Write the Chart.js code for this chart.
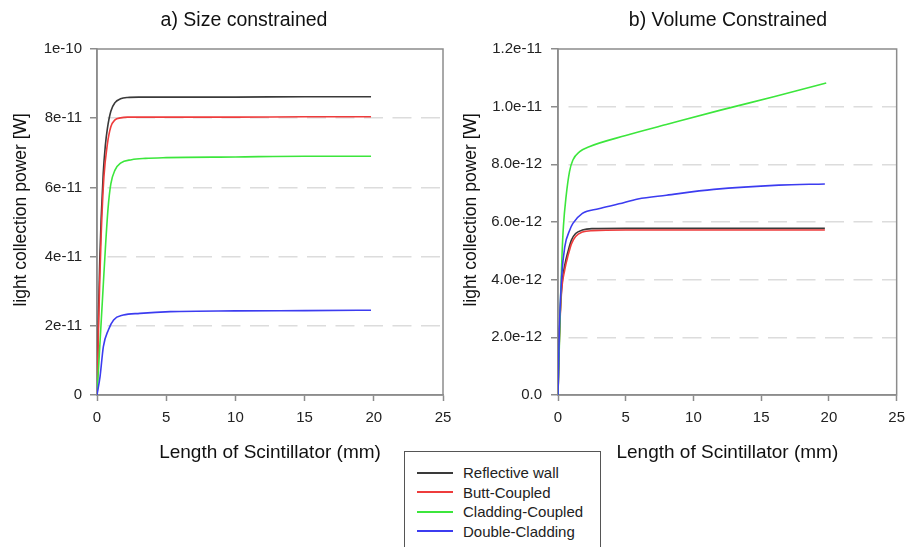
<!DOCTYPE html>
<html>
<head>
<meta charset="utf-8">
<script src="https://cdn.jsdelivr.net/npm/chart.js@4.4.0/dist/chart.umd.min.js"></script>
<style>
  body { margin: 0; background: #fff; overflow: hidden; }
  #wrap { position: relative; width: 913px; height: 547px; font-family: 'Liberation Sans', Arial, sans-serif; }
  .panel { position: absolute; top: 0; }
  #left { left: 0; }
  #right { left: 460px; }
  #legend { position: absolute; left: 404px; top: 451px; width: 197px; height: 110px; box-sizing: border-box;
            border: 1.5px solid #555; padding-top: 11px; background: #fff; }
  .item { height: 19.5px; line-height: 19.5px; font-size: 15px; color: #222; display: flex; align-items: center; }
  .swatch { display: inline-block; width: 36px; height: 2px; margin: 0 10px 0 12px; }
</style>
</head>
<body>
<div id="wrap">
  <canvas id="left" class="panel" width="460" height="547"></canvas>
  <canvas id="right" class="panel" width="453" height="547"></canvas>
  <div id="legend"></div>
</div>
<script>
/* ---- data ---- */
var seriesNames = ['Reflective wall', 'Butt-Coupled', 'Cladding-Coupled', 'Double-Cladding'];
var seriesColors = ['#3a3a3a', '#ee3c3c', '#3ce63c', '#3c3cf0'];

var xTicks = [0, 5, 10, 15, 20, 25];
var xTickLabels = ['0', '5', '10', '15', '20', '25'];

// a) size constrained, power in units of 1e-11 W
var sizeUnit = 1e-11;
var sizeReflectiveX = [0, 0.1, 0.2, 0.3, 0.45, 0.6, 0.75, 1.0, 1.3, 1.7, 2.2, 3, 5, 10, 15, 19.8];
var sizeReflectiveY = [0, 2.2, 3.9, 5.1, 6.4, 7.2, 7.7, 8.2, 8.45, 8.56, 8.6, 8.61, 8.61, 8.61, 8.62, 8.62];
var sizeButtX = [0, 0.1, 0.2, 0.3, 0.5, 0.75, 1.0, 1.3, 1.7, 2.2, 3, 5, 10, 15, 19.8];
var sizeButtY = [0, 1.8, 3.3, 4.6, 6.3, 7.25, 7.75, 7.95, 8.01, 8.03, 8.03, 8.03, 8.03, 8.04, 8.04];
var sizeCladX = [0, 0.2, 0.4, 0.6, 0.8, 1.0, 1.3, 1.7, 2.5, 3.5, 5, 10, 15, 19.8];
var sizeCladY = [0, 1.4, 2.8, 4.2, 5.4, 6.1, 6.5, 6.7, 6.8, 6.84, 6.86, 6.88, 6.9, 6.9];
var sizeDoubleX = [0, 0.22, 0.46, 0.82, 1.2, 1.9, 3.1, 5.3, 10, 15, 19.8];
var sizeDoubleY = [0, 0.53, 1.4, 1.88, 2.17, 2.31, 2.36, 2.41, 2.43, 2.44, 2.45];
var sizeYTicks = [0, 2e-11, 4e-11, 6e-11, 8e-11, 1e-10];
var sizeYLabels = ['0', '2e-11', '4e-11', '6e-11', '8e-11', '1e-10'];

// b) volume constrained, power in units of 1e-12 W
var volUnit = 1e-12;
var volReflectiveX = [0, 0.1, 0.25, 0.5, 0.75, 1.0, 1.3, 1.8, 2.5, 5, 10, 15, 19.7];
var volReflectiveY = [0, 2.0, 3.6, 4.5, 5.0, 5.38, 5.6, 5.72, 5.77, 5.78, 5.78, 5.78, 5.78];
var volButtX = [0, 0.1, 0.25, 0.5, 0.75, 1.0, 1.3, 1.8, 2.5, 5, 10, 15, 19.7];
var volButtY = [0, 1.9, 3.5, 4.35, 4.85, 5.25, 5.5, 5.65, 5.7, 5.72, 5.72, 5.72, 5.72];
var volCladX = [0, 0.07, 0.2, 0.3, 0.4, 0.6, 0.85, 1.1, 1.6, 2.3, 5, 8, 12, 16, 19.8];
var volCladY = [0, 1.2, 3.5, 4.9, 5.85, 6.9, 7.75, 8.15, 8.44, 8.61, 9.0, 9.38, 9.88, 10.35, 10.82];
var volDoubleX = [0, 0.1, 0.27, 0.5, 0.87, 1.1, 1.8, 3.0, 4.5, 5.9, 8, 11.5, 16.3, 19.7];
var volDoubleY = [0, 2.3, 4.1, 5.14, 5.72, 5.95, 6.3, 6.46, 6.63, 6.8, 6.93, 7.13, 7.28, 7.32];
var volYTicks = [0, 2e-12, 4e-12, 6e-12, 8e-12, 1e-11, 1.2e-11];
var volYLabels = ['0.0', '2.0e-12', '4.0e-12', '6.0e-12', '8.0e-12', '1.0e-11', '1.2e-11'];

var axisColor = '#8c8c8c';
var gridColor = '#dcdcdc';

Chart.defaults.font.family = "'Liberation Sans', Arial, sans-serif";
Chart.defaults.color = '#222';

// box round the plot area
var framePlugin = {
  id: 'frame',
  beforeDatasetsDraw(chart) {
    var a = chart.chartArea, ctx = chart.ctx;
    ctx.save();
    ctx.strokeStyle = axisColor;
    ctx.lineWidth = 1.5;
    ctx.strokeRect(a.left, a.top, a.right - a.left, a.bottom - a.top);
    ctx.restore();
  }
};

// panel heading (not centred on the plot area in the original)
var titlePlugin = {
  id: 'panelTitle',
  afterDraw(chart, args, opts) {
    var ctx = chart.ctx;
    ctx.save();
    ctx.font = '19.5px "Liberation Sans", Arial, sans-serif';
    ctx.fillStyle = '#111';
    ctx.textAlign = 'center';
    ctx.textBaseline = 'middle';
    ctx.fillText(opts.text, opts.x, opts.y);
    ctx.restore();
  }
};

function makePanel(id, xs, ys, unit, yTicks, yLabels, cfg) {
  var datasets = xs.map(function (xArr, i) {
    return {
      label: seriesNames[i],
      data: xArr.map(function (x, j) { return { x: x, y: ys[i][j] * unit }; }),
      borderColor: seriesColors[i],
      borderWidth: 1.6,
      pointRadius: 0,
      fill: false,
      cubicInterpolationMode: 'monotone',
      order: xs.length - i
    };
  });
  return new Chart(document.getElementById(id), {
    type: 'line',
    data: { datasets: datasets },
    options: {
      responsive: false,
      animation: false,
      layout: { padding: { top: 49, right: cfg.padRight, bottom: 82, left: 0 } },
      plugins: {
        legend: { display: false },
        tooltip: { enabled: false },
        panelTitle: { text: cfg.title, x: cfg.titleX, y: 21 }
      },
      scales: {
        x: {
          type: 'linear', min: 0, max: 25,
          afterBuildTicks: function (s) { s.ticks = xTicks.map(function (v) { return { value: v }; }); },
          afterFit: function (s) { s.height = 70; },
          grid: { drawOnChartArea: false, drawTicks: true, tickLength: 6, tickColor: axisColor, tickWidth: 1.5 },
          border: { color: axisColor, width: 1.5 },
          ticks: { padding: 8, font: { size: 15 }, maxRotation: 0, callback: function (v, i) { return xTickLabels[i]; } },
          title: { display: true, text: 'Length of Scintillator (mm)', font: { size: 19 }, color: '#111', padding: { top: 0, bottom: 1 } }
        },
        y: {
          type: 'linear', min: 0, max: yTicks[yTicks.length - 1],
          afterBuildTicks: function (s) { s.ticks = yTicks.map(function (v) { return { value: v }; }); },
          afterFit: function (s) { s.width = cfg.yWidth; },
          grid: {
            color: function (c) { return (c.index > 0 && c.index < yTicks.length - 1) ? gridColor : 'rgba(0,0,0,0)'; },
            lineWidth: 1.5, drawTicks: true, tickLength: 7, tickColor: axisColor, tickWidth: 1.5
          },
          border: { color: axisColor, width: 1.5, dash: [19, 9.5], dashOffset: 18.5 },
          ticks: { padding: cfg.tickPad, font: { size: 15 }, callback: function (v, i) { return yLabels[i]; } },
          title: { display: true, text: '     light collection power [W]', font: { size: 17.5 }, color: '#111', padding: { top: cfg.yTitlePad, bottom: 0 } }
        }
      }
    },
    plugins: [framePlugin, titlePlugin]
  });
}

makePanel('left',
  [sizeReflectiveX, sizeButtX, sizeCladX, sizeDoubleX],
  [sizeReflectiveY, sizeButtY, sizeCladY, sizeDoubleY],
  sizeUnit, sizeYTicks, sizeYLabels,
  { title: 'a) Size constrained', titleX: 244, padRight: 17, yWidth: 97, tickPad: 8, yTitlePad: 10.5 });

makePanel('right',
  [volReflectiveX, volButtX, volCladX, volDoubleX],
  [volReflectiveY, volButtY, volCladY, volDoubleY],
  volUnit, volYTicks, volYLabels,
  { title: 'b) Volume Constrained', titleX: 268, padRight: 10, yWidth: 98, tickPad: 9, yTitlePad: 0.5 });

// legend box between the panels
var legend = document.getElementById('legend');
seriesNames.forEach(function (name, i) {
  var row = document.createElement('div');
  row.className = 'item';
  var sw = document.createElement('span');
  sw.className = 'swatch';
  sw.style.backgroundColor = seriesColors[i];
  var txt = document.createElement('span');
  txt.textContent = name;
  row.appendChild(sw);
  row.appendChild(txt);
  legend.appendChild(row);
});
</script>
</body>
</html>
